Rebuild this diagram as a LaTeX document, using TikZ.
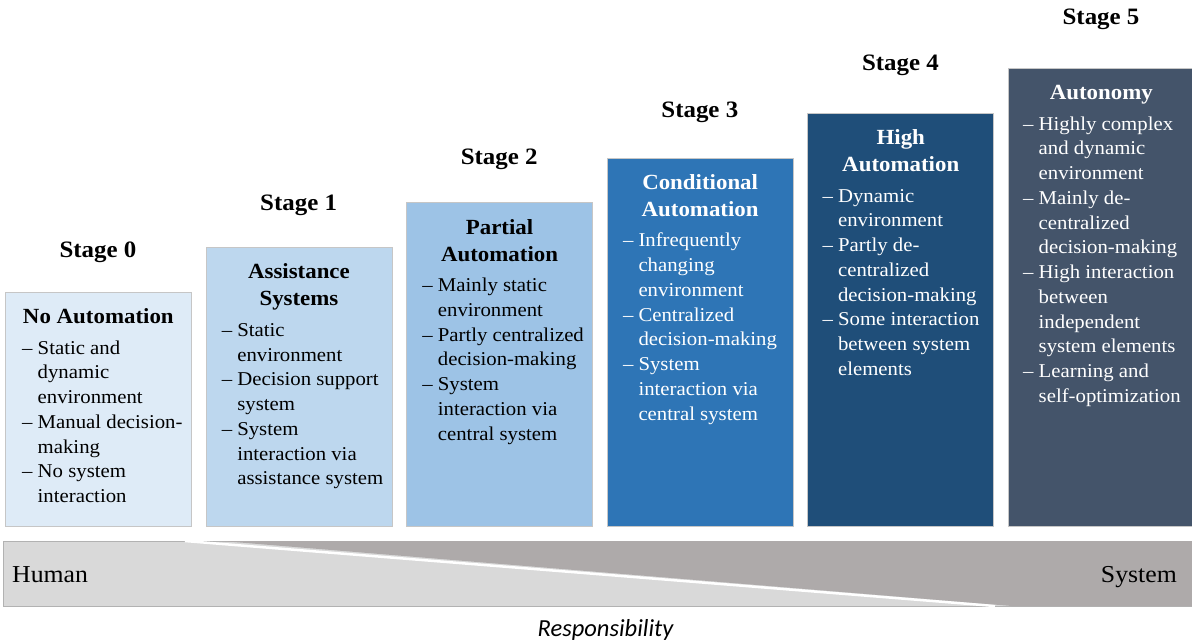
\documentclass[tikz,border=0pt]{standalone}
\usepackage{fontspec}
\setmainfont{Liberation Serif}[FakeStretch=1.06]
\newfontfamily\calibri{Carlito}
\usepackage{tikz}
\usetikzlibrary{calc,positioning}

\definecolor{stagezero}{HTML}{DEEBF7}
\definecolor{stageone}{HTML}{BDD7EE}
\definecolor{stagetwo}{HTML}{9DC3E6}
\definecolor{stagethree}{HTML}{2E75B6}
\definecolor{stagefour}{HTML}{1F4E79}
\definecolor{stagefive}{HTML}{44546A}
\definecolor{barlight}{HTML}{D9D9D9}
\definecolor{bardark}{HTML}{AEAAAA}

\newcommand\dsh{\makebox[15.5pt][l]{--}}
\newcommand\ind{\makebox[15.5pt]{}}

\tikzset{
  stagebox/.style={draw=gray!45, line width=0.7pt, anchor=north west, minimum width=186pt, inner sep=0pt},
  stagelabel/.style={font=\fontsize{23.5}{27}\selectfont\bfseries, anchor=base, inner sep=0pt},
  boxtitle/.style={font=\fontsize{21.6}{27}\selectfont\bfseries, align=center, anchor=north, inner sep=0pt},
  boxitems/.style={font=\fontsize{19.6}{24.75}\selectfont, align=left, anchor=north west, inner sep=0pt},
}

\begin{document}
\begin{tikzpicture}[x=1pt,y=-1pt]

\useasboundingbox (0,0) rectangle (1192,643);

\def\lightbar{(3,541) rectangle (1192,606)}
\def\darkbar{(222,541) -- (1192,541) -- (1192,606) -- (1012,606) -- cycle}

    % responsibility bar
    \fill[barlight, draw=gray!60, line width=0.7pt] \lightbar;
    \draw[white, line width=2.5pt] (185,541) -- (995,606);
    \fill[bardark] \darkbar;
    \node[font=\fontsize{24.3}{28}\selectfont, anchor=base west, inner sep=0pt] (human) at (12,582.7) {Human};
    \node[font=\fontsize{24.3}{28}\selectfont, anchor=base east, inner sep=0pt] (system) at (1177,582.7) {System};
    \node[font=\calibri\itshape\fontsize{24.5}{28}\selectfont, anchor=base, inner sep=0pt] (resp) at (605.5,636.7) {Responsibility};

    % stage 0
    \node[stagebox, fill=stagezero, minimum height=233.5pt] (b0) at (5,292) {};
    \node[stagelabel] (s0) at (98,257.3) {Stage 0};
    \node[boxtitle] (t0) at ([yshift=-12.6pt]b0.north) {\strut No Automation};
    \node[boxitems] (l0) at ([xshift=17pt,yshift=-44.7pt]b0.north west)
      {\strut\dsh Static and\\ \ind dynamic\\ \ind environment\\ \dsh Manual decision-\\ \ind making\\ \dsh No system\\ \ind interaction};

    % stage 1
    \node[stagebox, fill=stageone, minimum height=278.3pt] (b1) at (205.6,247.2) {};
    \node[stagelabel] (s1) at (298.6,210.7) {Stage 1};
    \node[boxtitle] (t1) at ([yshift=-12.6pt]b1.north) {\strut Assistance\\ Systems};
    \node[boxitems] (l1) at ([xshift=16pt,yshift=-71.7pt]b1.north west)
      {\strut\dsh Static\\ \ind environment\\ \dsh Decision support\\ \ind system\\ \dsh System\\ \ind interaction via\\ \ind assistance system};

    % stage 2
    \node[stagebox, fill=stagetwo, minimum height=323.1pt] (b2) at (406.2,202.4) {};
    \node[stagelabel] (s2) at (499.2,164.1) {Stage 2};
    \node[boxtitle] (t2) at ([yshift=-12.6pt]b2.north) {\strut Partial\\ Automation};
    \node[boxitems] (l2) at ([xshift=16pt,yshift=-71.7pt]b2.north west)
      {\strut\dsh Mainly static\\ \ind environment\\ \dsh Partly centralized\\ \ind decision-making\\ \dsh System\\ \ind interaction via\\ \ind central system};

    % stage 3
    \node[stagebox, fill=stagethree, minimum height=367.9pt] (b3) at (606.8,157.6) {};
    \node[stagelabel] (s3) at (699.8,117.5) {Stage 3};
    \node[boxtitle, text=white] (t3) at ([yshift=-12.6pt]b3.north) {\strut Conditional\\ Automation};
    \node[boxitems, text=white] (l3) at ([xshift=16pt,yshift=-71.7pt]b3.north west)
      {\strut\dsh Infrequently\\ \ind changing\\ \ind environment\\ \dsh Centralized\\ \ind decision-making\\ \dsh System\\ \ind interaction via\\ \ind central system};

    % stage 4
    \node[stagebox, fill=stagefour, minimum height=412.7pt] (b4) at (807.4,112.8) {};
    \node[stagelabel] (s4) at (900.4,70.9) {Stage 4};
    \node[boxtitle, text=white] (t4) at ([yshift=-12.6pt]b4.north) {\strut High\\ Automation};
    \node[boxitems, text=white] (l4) at ([xshift=15pt,yshift=-71.7pt]b4.north west)
      {\strut\dsh Dynamic\\ \ind environment\\ \dsh Partly de-\\ \ind centralized\\ \ind decision-making\\ \dsh Some interaction\\ \ind between system\\ \ind elements};

    % stage 5
    \node[stagebox, fill=stagefive, minimum height=457.5pt] (b5) at (1008,68) {};
    \node[stagelabel] (s5) at (1101,24.3) {Stage 5};
    \node[boxtitle, text=white] (t5) at ([yshift=-12.6pt]b5.north) {\strut Autonomy};
    \node[boxitems, text=white] (l5) at ([xshift=15pt,yshift=-44.7pt]b5.north west)
      {\strut\dsh Highly complex\\ \ind and dynamic\\ \ind environment\\ \dsh Mainly de-\\ \ind centralized\\ \ind decision-making\\ \dsh High interaction\\ \ind between\\ \ind independent\\ \ind system elements\\ \dsh Learning and\\ \ind self-optimization};

\end{tikzpicture}
\end{document}
